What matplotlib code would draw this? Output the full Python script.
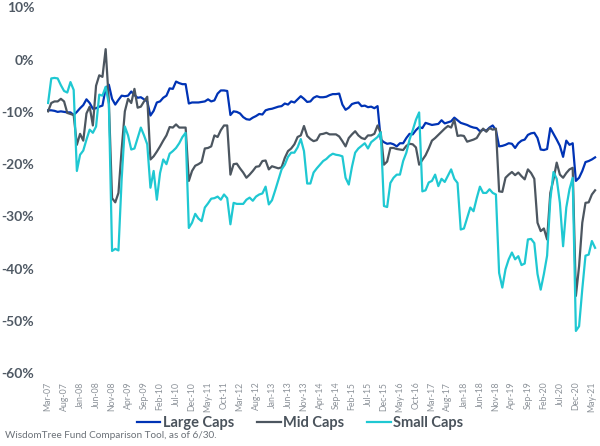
import matplotlib
matplotlib.use('Agg')
import matplotlib.pyplot as plt
import numpy as np
import pandas as pd

plt.rcParams['font.family'] = ['Lato', 'DejaVu Sans']

months = pd.date_range('2007-03-01', '2021-06-01', freq='MS').strftime('%b-%y').tolist()
tick_labels = months[::5]

large_caps = [
    -9.7, -9.7, -9.8, -10.0, -9.9, -10.0, -10.1, -10.1, -10.6, -10.0,
    -9.3, -8.7, -7.6, -8.3, -9.4, -9.3, -9.0, -8.8, -5.5, -4.8,
    -7.5, -8.6, -7.7, -6.9, -7.0, -6.9, -6.1, -6.8, -7.3, -7.2,
    -7.6, -8.0, -10.7, -9.8, -8.2, -8.0, -7.3, -6.9, -5.5, -5.6,
    -4.2, -4.5, -4.7, -4.7, -8.4, -8.2, -8.2, -8.2, -8.1, -8.0,
    -7.6, -8.0, -7.8, -6.5, -5.9, -5.9, -6.0, -10.6, -9.9, -10.0,
    -10.3, -11.0, -11.4, -11.5, -11.1, -10.8, -10.4, -10.5, -9.7, -9.5,
    -9.4, -9.2, -9.0, -8.9, -8.4, -8.6, -8.0, -8.2, -7.6, -7.0,
    -7.5, -8.1, -8.0, -7.3, -7.0, -7.2, -7.2, -7.1, -6.8, -6.6,
    -6.6, -6.5, -8.6, -9.6, -9.2, -8.5, -8.3, -8.2, -8.9, -8.8,
    -9.1, -9.0, -9.3, -8.9, -15.3, -15.8, -16.1, -16.0, -16.2, -16.6,
    -16.0, -16.0, -15.0, -14.2, -14.3, -13.5, -12.9, -13.1, -12.1, -12.3,
    -12.5, -12.4, -12.3, -11.6, -12.2, -12.0, -11.8, -11.1, -11.6, -12.1,
    -12.3, -12.5, -12.8, -13.0, -13.1, -13.7, -13.4, -13.6, -13.0, -12.6,
    -13.5, -16.6, -16.5, -16.3, -16.0, -16.1, -16.9, -16.0, -15.5, -15.3,
    -14.4, -14.1, -14.0, -15.0, -17.2, -17.3, -17.1, -13.1, -14.2, -15.3,
    -16.5, -18.6, -15.5, -16.3, -16.0, -23.2, -22.6, -21.3, -19.6, -19.4,
    -19.1, -18.7,
]

mid_caps = [
    -9.9, -8.3, -8.0, -8.0, -7.5, -8.0, -10.2, -10.4, -10.6, -16.3,
    -14.2, -15.5, -10.3, -9.0, -12.6, -5.0, -3.0, -3.3, 2.0, -8.0,
    -26.5, -27.3, -25.5, -17.2, -9.9, -7.5, -8.3, -5.6, -9.2, -9.0,
    -8.0, -7.1, -19.1, -18.5, -17.6, -16.6, -15.5, -14.5, -12.9, -13.0,
    -12.4, -13.0, -13.0, -13.0, -23.2, -21.3, -20.3, -20.0, -19.6, -17.0,
    -16.9, -16.6, -14.5, -14.8, -13.5, -12.6, -12.6, -22.0, -20.0, -19.9,
    -20.8, -21.6, -22.6, -22.0, -21.3, -20.5, -20.4, -19.4, -19.3, -21.0,
    -20.4, -20.6, -20.8, -20.6, -18.8, -17.5, -17.0, -16.2, -14.8, -14.5,
    -12.7, -14.6, -15.2, -15.6, -15.4, -14.3, -14.2, -14.0, -14.3, -14.3,
    -14.3, -14.7, -15.6, -16.6, -15.0, -14.3, -13.7, -14.5, -15.0, -15.2,
    -14.5, -14.5, -14.2, -12.6, -14.0, -20.1, -19.5, -16.9, -16.9, -17.1,
    -17.2, -17.3, -16.5, -16.1, -16.2, -16.8, -20.1, -19.2, -18.3, -17.0,
    -15.5, -15.0, -14.4, -13.8, -13.2, -12.7, -13.0, -11.5, -14.6, -14.5,
    -14.6, -15.7, -15.5, -15.3, -15.0, -14.0, -13.2, -13.8, -13.1, -13.4,
    -13.2, -25.2, -25.3, -22.6, -22.0, -21.5, -22.1, -21.6, -22.3, -22.9,
    -21.0, -21.7, -22.8, -31.2, -32.8, -32.3, -34.4, -25.5, -22.9, -19.7,
    -22.0, -22.6, -21.7, -21.0, -20.7, -45.2, -39.5, -31.2, -27.4, -27.3,
    -25.8, -25.0,
]

small_caps = [
    -8.3, -3.6, -3.5, -3.6, -4.9, -6.0, -6.3, -4.3, -5.8, -21.3,
    -18.2, -17.4, -15.3, -13.4, -14.0, -12.8, -6.7, -6.9, -5.2, -8.5,
    -36.6, -36.2, -36.5, -22.9, -12.8, -14.5, -17.2, -17.0, -15.0, -13.0,
    -14.5, -16.2, -24.5, -21.3, -26.8, -21.7, -19.1, -20.0, -18.0, -17.5,
    -16.9, -16.0, -14.8, -14.0, -32.2, -31.2, -29.5, -30.4, -30.9, -28.3,
    -27.5, -26.6, -26.5, -26.2, -26.8, -25.8, -26.5, -31.5, -27.4, -27.6,
    -27.6, -27.6, -26.8, -26.4, -27.0, -26.2, -25.8, -25.6, -24.3, -27.7,
    -26.9, -25.0, -23.0, -21.0, -20.1, -18.6, -17.8, -17.8, -16.8, -15.2,
    -17.5, -23.7, -23.7, -21.6, -20.8, -20.1, -19.4, -19.0, -18.4, -18.0,
    -18.2, -18.3, -18.5, -22.6, -23.9, -20.5, -17.8, -17.0, -16.5, -16.0,
    -17.0, -15.8, -15.3, -14.8, -13.9, -28.0, -28.2, -23.6, -22.6, -22.0,
    -22.0, -19.4, -17.8, -15.3, -13.5, -11.5, -10.1, -25.2, -25.0, -23.5,
    -23.2, -22.0, -24.2, -22.8, -23.4, -22.2, -21.0, -22.8, -23.6, -32.5,
    -32.3, -30.3, -28.3, -29.0, -26.5, -24.3, -25.5, -25.5, -24.8, -25.5,
    -25.8, -40.8, -43.6, -40.1, -38.2, -36.9, -38.2, -37.6, -39.3, -39.0,
    -34.4, -34.3, -35.1, -41.0, -44.0, -41.0, -37.5, -26.8, -21.5, -22.8,
    -27.4, -35.7, -28.3, -24.8, -22.6, -51.9, -51.0, -43.9, -37.5, -37.3,
    -34.7, -36.0,
]

series_names = ['Large Caps', 'Mid Caps', 'Small Caps']
series_colors = ['#0033B5', '#4C5660', '#1FC8D2']
y_ticks = [10, 0, -10, -20, -30, -40, -50, -60]

fig = plt.figure(figsize=(6.0, 4.46), dpi=100)
ax = fig.add_axes([0.078, 0.163, 0.917, 0.8206])

x = np.arange(len(months))
for name, vals, col in zip(series_names, [large_caps, mid_caps, small_caps], series_colors):
    ax.plot(x, vals, color=col, lw=1.6, label=name, solid_joinstyle='round')

ax.set_xlim(-0.4, len(months) - 0.4)
ax.set_ylim(-60, 10)
ax.set_yticks(y_ticks)
ax.set_yticklabels([f'{t}%' for t in y_ticks], fontsize=10, fontweight='bold', color='#4F5964')
ax.set_xticks(x[::5])
ax.set_xticklabels(tick_labels, rotation=90, fontsize=6.3, color='#8C9299')
ax.tick_params(axis='both', length=0)
ax.tick_params(axis='x', pad=6)
ax.tick_params(axis='y', pad=9)
for s in ax.spines.values():
    s.set_visible(False)

leg = fig.legend(loc='center', bbox_to_anchor=(0.5, 0.052), ncol=3, frameon=False,
                 handlelength=1.6, handletextpad=0.15, columnspacing=1.6,
                 prop={'weight': 'bold', 'size': 10.5})
for t in leg.get_texts():
    t.set_color('#4A535C')

fig.text(0.008, 0.018, 'WisdomTree Fund Comparison Tool, as of 6/30.', fontsize=7.2, color='#6B7178')

fig.savefig('out.png', dpi=100)
